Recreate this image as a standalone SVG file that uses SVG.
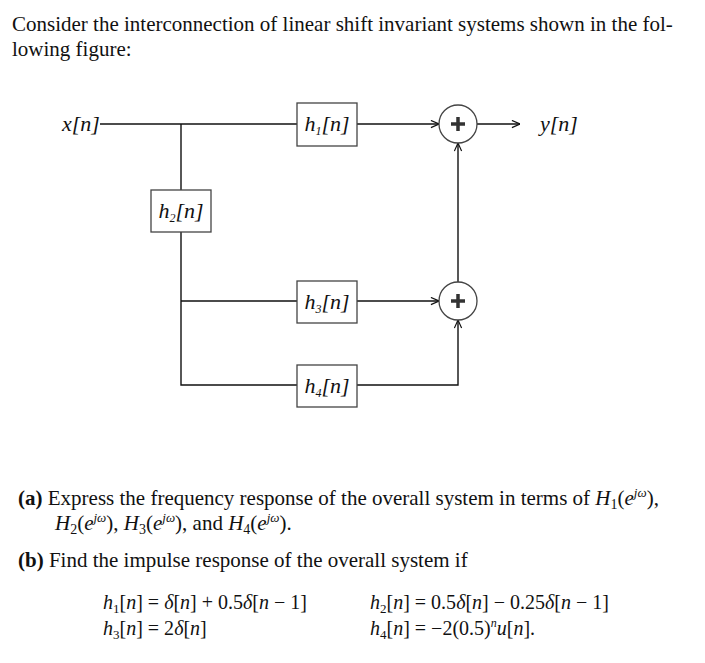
<svg xmlns="http://www.w3.org/2000/svg" width="705" height="663" viewBox="0 0 705 663">
<defs>
<style>
text{font-family:"Liberation Serif","DejaVu Serif",serif;font-size:21px;fill:#111}
.m{font-family:"Liberation Serif",serif;font-style:italic;font-size:22px}
.e{font-size:20px}
.b{font-weight:bold}
.box{fill:#fff;stroke:#444;stroke-width:1.3}
.w{fill:none;stroke:#111;stroke-width:1.4}
.sum{fill:#fff;stroke:#444;stroke-width:1.3}
</style>
<marker id="a" viewBox="0 0 10 10" refX="10" refY="5" markerWidth="9" markerHeight="9" orient="auto" markerUnits="userSpaceOnUse"><path d="M1,1 L10,5 L1,9" fill="none" stroke="#111" stroke-width="1.3"/></marker>
</defs>
<rect width="705" height="663" fill="#fff"/>
<text x="12" y="31">Consider the interconnection of linear shift invariant systems shown in the fol-</text>
<text x="12" y="56">lowing figure:</text>
<g id="connectors">
<path class="w" d="M100,124 H297"/>
<path class="w" d="M181,124 V190 M181,232 V385 H297 M181,301 H297"/>
<path class="w" d="M357,124 H439" marker-end="url(#a)"/>
<path class="w" d="M477,124 H520" marker-end="url(#a)"/>
<path class="w" d="M357,301 H439" marker-end="url(#a)"/>
<path class="w" d="M357,385 H458 V320" marker-end="url(#a)"/>
<path class="w" d="M458,282 V143" marker-end="url(#a)"/>
</g>
<g id="x"><text class="m" x="62" y="131">x[n]</text></g>
<g id="y"><text class="m" x="540" y="131">y[n]</text></g>
<g id="h1"><rect class="box" x="297" y="103" width="60" height="43"/><text class="m" x="327" y="131" text-anchor="middle">h<tspan font-size="12" dy="4">1</tspan><tspan dy="-4">[n]</tspan></text></g>
<g id="h2"><rect class="box" x="151" y="190" width="60" height="42"/><text class="m" x="181" y="218" text-anchor="middle">h<tspan font-size="12" dy="4">2</tspan><tspan dy="-4">[n]</tspan></text></g>
<g id="h3"><rect class="box" x="297" y="281" width="60" height="42"/><text class="m" x="327" y="309" text-anchor="middle">h<tspan font-size="12" dy="4">3</tspan><tspan dy="-4">[n]</tspan></text></g>
<g id="h4"><rect class="box" x="297" y="365" width="60" height="42"/><text class="m" x="327" y="393" text-anchor="middle">h<tspan font-size="12" dy="4">4</tspan><tspan dy="-4">[n]</tspan></text></g>
<g id="sum1"><circle class="sum" cx="458" cy="124" r="19"/><path d="M451,124 H465 M458,117 V131" stroke="#333" stroke-width="3.5"/></g>
<g id="sum2"><circle class="sum" cx="458" cy="301" r="19"/><path d="M451,301 H465 M458,294 V308" stroke="#333" stroke-width="3.5"/></g>
<text x="18" y="505"><tspan class="b">(a)</tspan> Express the frequency response of the overall system in terms of <tspan font-style="italic">H</tspan><tspan font-size="14" dy="4">1</tspan><tspan dy="-4">(</tspan><tspan font-style="italic">e</tspan><tspan font-style="italic" font-size="13" dy="-8">jω</tspan><tspan dy="8">),</tspan></text>
<text x="55" y="530"><tspan font-style="italic">H</tspan><tspan font-size="14" dy="4">2</tspan><tspan dy="-4">(</tspan><tspan font-style="italic">e</tspan><tspan font-style="italic" font-size="13" dy="-8">jω</tspan><tspan dy="8">), </tspan><tspan font-style="italic">H</tspan><tspan font-size="14" dy="4">3</tspan><tspan dy="-4">(</tspan><tspan font-style="italic">e</tspan><tspan font-style="italic" font-size="13" dy="-8">jω</tspan><tspan dy="8">), and </tspan><tspan font-style="italic">H</tspan><tspan font-size="14" dy="4">4</tspan><tspan dy="-4">(</tspan><tspan font-style="italic">e</tspan><tspan font-style="italic" font-size="13" dy="-8">jω</tspan><tspan dy="8">).</tspan></text>
<text x="18" y="567"><tspan class="b">(b)</tspan> Find the impulse response of the overall system if</text>
<text class="e" x="103" y="609"><tspan font-style="italic">h</tspan><tspan font-size="13" dy="4">1</tspan><tspan dy="-4">[</tspan><tspan font-style="italic">n</tspan>] = <tspan font-style="italic">δ</tspan>[<tspan font-style="italic">n</tspan>] + 0.5<tspan font-style="italic">δ</tspan>[<tspan font-style="italic">n</tspan> − 1]</text>
<text class="e" x="103" y="635"><tspan font-style="italic">h</tspan><tspan font-size="13" dy="4">3</tspan><tspan dy="-4">[</tspan><tspan font-style="italic">n</tspan>] = 2<tspan font-style="italic">δ</tspan>[<tspan font-style="italic">n</tspan>]</text>
<text class="e" x="370" y="609"><tspan font-style="italic">h</tspan><tspan font-size="13" dy="4">2</tspan><tspan dy="-4">[</tspan><tspan font-style="italic">n</tspan>] = 0.5<tspan font-style="italic">δ</tspan>[<tspan font-style="italic">n</tspan>] − 0.25<tspan font-style="italic">δ</tspan>[<tspan font-style="italic">n</tspan> − 1]</text>
<text class="e" x="370" y="635"><tspan font-style="italic">h</tspan><tspan font-size="13" dy="4">4</tspan><tspan dy="-4">[</tspan><tspan font-style="italic">n</tspan>] = −2(0.5)<tspan font-style="italic" font-size="12" dy="-8">n</tspan><tspan font-style="italic" dy="8">u</tspan>[<tspan font-style="italic">n</tspan>].</text>
</svg>
